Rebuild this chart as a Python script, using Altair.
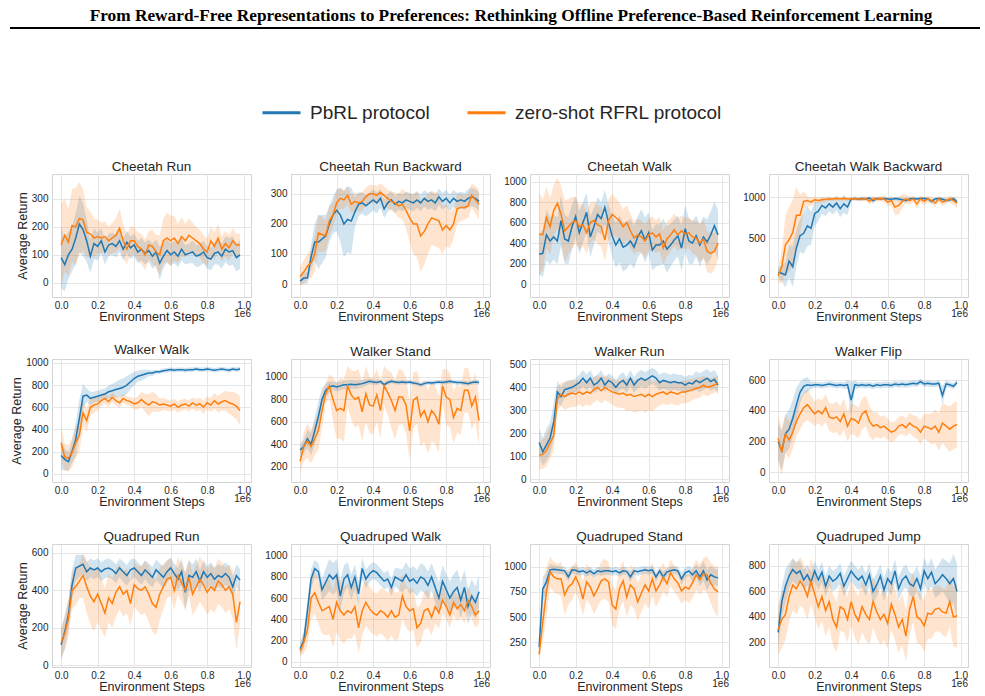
import altair as alt
import pandas as pd

TITLE = ("From Reward-Free Representations to Preferences: "
         "Rethinking Offline Preference-Based Reinforcement Learning")
SERIES = ["PbRL protocol", "zero-shot RFRL protocol"]
COLORS = ["#1f77b4", "#ff7f0e"]
STEPS = [i / 50 for i in range(50)]  # environment steps (x 1e6)
X_TICKS = [0.0, 0.2, 0.4, 0.6, 0.8, 1.0]

TASKS = ["Cheetah Run", "Cheetah Run Backward", "Cheetah Walk", "Cheetah Walk Backward",
         "Walker Walk", "Walker Stand", "Walker Run", "Walker Flip",
         "Quadruped Run", "Quadruped Walk", "Quadruped Stand", "Quadruped Jump"]
Y_TICKS = [[0, 100, 200, 300], [0, 100, 200, 300], [0, 200, 400, 600, 800, 1000], [0, 500, 1000],
           [0, 200, 400, 600, 800, 1000], [200, 400, 600, 800, 1000], [0, 100, 200, 300, 400, 500], [0, 200, 400, 600],
           [0, 200, 400, 600], [0, 200, 400, 600, 800, 1000], [250, 500, 750, 1000], [200, 400, 600, 800]]
Y_DOMAINS = [[-51, 389], [-43, 366], [-127, 1075], [-220, 1285],
             [-75, 1036], [65, 1159], [-11, 523], [-65, 738],
             [-9, 648], [-51, 1111], [3, 1227], [9, 970]]

# mean returns (PbRL = *_P, zero-shot RFRL = *_O) and band half-widths (*_B)
CR_P = [90, 65, 100, 120, 160, 210, 190, 150, 95, 140, 130, 150, 110, 135, 140, 130, 150, 120, 145, 125,
        135, 110, 120, 105, 115, 95, 110, 70, 95, 115, 100, 110, 95, 120, 100, 105, 110, 95, 100, 110,
        90, 85, 105, 110, 95, 120, 110, 115, 90, 100]
CR_P_B = [110, 95, 85, 80, 90, 100, 95, 75, 60, 55, 50, 45, 45, 40, 40, 40, 40, 40, 40, 40,
          40, 40, 40, 40, 40, 45, 45, 60, 45, 40, 40, 40, 40, 40, 35, 35, 40, 40, 40, 40,
          40, 40, 40, 45, 45, 45, 50, 50, 50, 50]
CR_O = [135, 170, 145, 205, 200, 230, 225, 180, 175, 160, 165, 160, 165, 150, 160, 170, 195, 150, 120, 150,
        150, 130, 120, 100, 135, 130, 110, 100, 150, 160, 150, 160, 140, 165, 150, 170, 160, 150, 140, 120,
        110, 150, 130, 160, 120, 140, 125, 150, 135, 135]
CR_O_B = [150, 130, 120, 130, 140, 130, 110, 90, 80, 70, 60, 55, 55, 50, 55, 60, 70, 60, 55, 50,
          50, 50, 55, 55, 50, 60, 60, 70, 80, 90, 90, 80, 70, 70, 60, 60, 55, 50, 50, 50,
          50, 50, 50, 50, 45, 45, 45, 45, 40, 40]

CRB_P = [10, 20, 20, 90, 140, 140, 150, 160, 200, 230, 245, 230, 200, 215, 210, 240, 265, 270, 260, 270,
         280, 270, 285, 250, 270, 280, 265, 275, 270, 280, 275, 270, 280, 270, 285, 275, 280, 270, 290, 275,
         285, 270, 285, 275, 280, 275, 285, 290, 285, 275]
CRB_P_B = [15, 18, 20, 40, 60, 90, 80, 70, 60, 60, 70, 90, 110, 110, 110, 50, 40, 35, 35, 35,
           35, 35, 30, 30, 30, 30, 28, 28, 28, 28, 28, 28, 28, 28, 28, 28, 28, 28, 28, 28,
           28, 28, 28, 28, 28, 28, 30, 30, 30, 30]
CRB_O = [25, 40, 60, 70, 100, 170, 165, 160, 210, 230, 270, 285, 280, 295, 265, 275, 270, 275, 290, 300,
         300, 295, 305, 295, 285, 275, 270, 260, 265, 245, 220, 200, 200, 160, 175, 200, 220, 215, 210, 180,
         195, 180, 200, 250, 255, 255, 260, 295, 280, 265]
CRB_O_B = [30, 40, 40, 50, 60, 60, 60, 50, 50, 40, 40, 35, 30, 30, 30, 30, 30, 30, 30, 30,
           30, 30, 30, 30, 30, 30, 35, 40, 50, 60, 80, 100, 110, 120, 110, 100, 90, 90, 90, 80,
           70, 60, 50, 50, 45, 40, 40, 40, 45, 50]

CW_P = [290, 300, 480, 420, 460, 420, 620, 440, 420, 560, 660, 500, 600, 700, 460, 560, 680, 640, 750, 600,
        470, 380, 440, 360, 380, 420, 360, 460, 520, 430, 500, 330, 380, 380, 420, 340, 380, 430, 470, 350,
        540, 420, 400, 470, 380, 460, 410, 480, 570, 480]
CW_P_B = [200, 230, 250, 230, 220, 230, 250, 240, 230, 220, 200, 210, 200, 190, 200, 180, 170, 160, 170, 180,
          200, 220, 230, 240, 230, 220, 210, 200, 210, 220, 200, 200, 210, 200, 220, 230, 210, 200, 200, 220,
          230, 220, 210, 200, 210, 200, 220, 230, 240, 240]
CW_O = [490, 480, 650, 560, 720, 790, 680, 520, 560, 600, 620, 560, 580, 500, 600, 620, 580, 560, 430, 620,
        680, 650, 620, 560, 600, 520, 450, 480, 460, 420, 480, 500, 460, 490, 350, 440, 480, 530, 480, 520,
        490, 500, 460, 450, 400, 440, 320, 300, 320, 400]
CW_O_B = [400, 350, 300, 280, 250, 250, 280, 300, 270, 250, 230, 220, 210, 200, 200, 190, 190, 200, 200, 210,
          200, 190, 180, 170, 170, 170, 160, 160, 160, 160, 160, 160, 160, 170, 170, 170, 160, 160, 160, 150,
          150, 150, 160, 170, 180, 190, 200, 200, 180, 150]

CWB_P = [80, 70, 50, 220, 150, 380, 530, 560, 650, 620, 800, 830, 900, 870, 920, 880, 930, 860, 920, 880,
         980, 985, 975, 985, 980, 990, 960, 985, 980, 985, 980, 975, 985, 980, 970, 960, 980, 985, 980, 985,
         985, 980, 950, 980, 985, 975, 960, 970, 980, 945]
CWB_P_B = [60, 100, 150, 200, 250, 230, 200, 250, 250, 200, 150, 120, 100, 100, 90, 90, 90, 100, 110, 100,
           20, 20, 20, 25, 20, 20, 40, 20, 20, 20, 20, 20, 20, 25, 25, 30, 20, 20, 20, 20,
           20, 20, 30, 20, 20, 25, 25, 25, 25, 30]
CWB_O = [40, 150, 420, 480, 570, 780, 780, 950, 960, 940, 970, 960, 970, 975, 980, 980, 985, 980, 985, 980,
         980, 985, 980, 975, 985, 950, 980, 975, 985, 980, 940, 960, 880, 900, 950, 980, 960, 980, 920, 980,
         950, 980, 960, 930, 980, 940, 960, 980, 960, 930]
CWB_O_B = [80, 200, 350, 400, 400, 350, 250, 120, 60, 50, 40, 35, 30, 30, 25, 25, 25, 25, 25, 25,
           25, 25, 25, 25, 25, 40, 30, 30, 30, 40, 50, 60, 100, 110, 80, 50, 50, 40, 60, 40,
           50, 40, 40, 50, 40, 50, 40, 40, 50, 60]

WW_P = [165, 130, 110, 200, 310, 500, 700, 710, 680, 690, 700, 710, 720, 740, 750, 760, 770, 780, 800, 830,
        860, 880, 890, 900, 910, 910, 920, 920, 930, 935, 940, 935, 940, 940, 935, 940, 940, 945, 940, 940,
        945, 940, 935, 940, 945, 940, 935, 945, 940, 945]
WW_P_B = [130, 100, 80, 100, 150, 170, 110, 60, 60, 50, 50, 50, 50, 60, 60, 70, 80, 80, 80, 70,
          60, 50, 50, 40, 30, 25, 20, 20, 20, 20, 20, 20, 20, 20, 20, 20, 20, 20, 20, 20,
          20, 20, 20, 20, 20, 20, 20, 20, 20, 20]
WW_O = [280, 150, 140, 190, 280, 350, 550, 480, 600, 620, 630, 660, 680, 650, 690, 660, 640, 680, 660, 650,
        630, 640, 670, 640, 620, 650, 640, 620, 630, 620, 610, 630, 600, 620, 630, 610, 640, 620, 630, 600,
        640, 620, 660, 630, 650, 660, 640, 630, 610, 570]
WW_O_B = [150, 120, 120, 130, 140, 150, 120, 100, 80, 70, 60, 50, 50, 50, 45, 45, 45, 40, 40, 40,
          50, 60, 70, 80, 100, 90, 80, 60, 55, 50, 50, 50, 50, 50, 50, 50, 50, 55, 55, 60,
          60, 65, 70, 75, 80, 90, 100, 110, 120, 130]

WS_P = [350, 380, 450, 400, 520, 650, 800, 880, 910, 920, 910, 920, 930, 930, 935, 930, 935, 940, 950, 960,
        955, 950, 960, 930, 950, 960, 955, 950, 955, 950, 955, 945, 940, 930, 940, 950, 945, 950, 955, 950,
        955, 960, 955, 950, 950, 945, 940, 950, 955, 950]
WS_P_B = [50, 60, 80, 100, 120, 130, 100, 60, 50, 40, 40, 40, 40, 40, 40, 40, 40, 35, 30, 25,
          25, 25, 20, 25, 20, 20, 20, 20, 20, 20, 20, 20, 20, 20, 20, 20, 20, 20, 20, 20,
          20, 20, 20, 20, 20, 20, 20, 20, 20, 25]
WS_O = [250, 380, 430, 380, 450, 520, 700, 850, 920, 800, 700, 720, 700, 920, 840, 800, 820, 690, 850, 750,
        740, 840, 700, 920, 860, 790, 700, 820, 820, 750, 520, 790, 820, 650, 700, 600, 700, 660, 580, 920,
        820, 800, 640, 720, 700, 880, 880, 740, 820, 610]
WS_O_B = [100, 130, 150, 150, 150, 170, 150, 100, 100, 200, 250, 270, 280, 180, 220, 250, 250, 260, 250, 250,
          250, 240, 250, 180, 200, 250, 260, 250, 240, 250, 260, 250, 240, 270, 280, 280, 270, 260, 250, 150,
          250, 240, 230, 220, 210, 200, 200, 210, 220, 220]

WR_P = [160, 120, 150, 180, 250, 380, 360, 390, 395, 400, 410, 420, 440, 420, 440, 410, 420, 440, 410, 430,
        420, 400, 420, 430, 410, 440, 410, 430, 440, 430, 440, 450, 440, 420, 430, 425, 420, 425, 420, 420,
        410, 420, 415, 430, 420, 430, 440, 425, 435, 410]
WR_P_B = [60, 60, 70, 70, 80, 50, 40, 35, 35, 30, 30, 35, 35, 35, 35, 35, 35, 35, 30, 30,
          30, 30, 35, 35, 35, 35, 35, 35, 35, 35, 35, 35, 35, 35, 35, 35, 35, 35, 35, 35,
          35, 35, 35, 40, 40, 40, 40, 40, 40, 40]
WR_O = [105, 110, 125, 160, 190, 350, 370, 360, 370, 375, 370, 380, 370, 380, 375, 390, 400, 385, 400, 390,
        380, 375, 370, 375, 365, 370, 360, 365, 370, 360, 370, 360, 370, 375, 380, 370, 380, 375, 370, 380,
        380, 385, 390, 395, 400, 410, 400, 405, 410, 420]
WR_O_B = [60, 65, 70, 70, 60, 50, 50, 60, 60, 60, 55, 55, 55, 55, 55, 55, 55, 55, 55, 55,
          55, 60, 60, 65, 70, 70, 70, 70, 70, 70, 70, 65, 60, 55, 50, 50, 50, 50, 50, 50,
          50, 50, 45, 45, 45, 40, 40, 35, 35, 30]

WF_P = [200, 140, 250, 280, 350, 440, 520, 560, 570, 565, 570, 570, 565, 570, 575, 570, 565, 570, 565, 570,
        470, 570, 565, 570, 565, 570, 560, 570, 565, 570, 570, 565, 575, 570, 575, 570, 575, 580, 575, 590,
        575, 580, 575, 575, 580, 500, 575, 570, 560, 585]
WF_P_B = [120, 130, 120, 130, 120, 110, 70, 50, 50, 25, 20, 20, 20, 20, 20, 20, 20, 20, 20, 30,
          120, 30, 20, 20, 20, 20, 20, 20, 20, 20, 20, 20, 20, 20, 20, 20, 20, 20, 20, 20,
          20, 20, 20, 20, 20, 60, 25, 20, 20, 20]
WF_O = [220, 130, 250, 210, 260, 330, 380, 420, 440, 410, 380, 400, 380, 420, 360, 350, 360, 330, 380, 300,
        350, 340, 320, 380, 400, 330, 300, 310, 290, 300, 280, 260, 270, 300, 310, 290, 320, 300, 290, 260,
        300, 290, 280, 300, 260, 320, 300, 280, 300, 310]
WF_O_B = [150, 150, 130, 120, 110, 100, 100, 100, 100, 90, 80, 80, 85, 90, 90, 95, 100, 100, 100, 100,
          100, 100, 100, 100, 100, 100, 90, 80, 75, 70, 70, 65, 60, 60, 60, 60, 65, 70, 75, 80,
          80, 90, 100, 110, 120, 130, 140, 150, 150, 150]

QR_P = [110, 180, 270, 430, 520, 530, 540, 500, 520, 510, 520, 500, 515, 520, 510, 490, 520, 500, 480, 510,
        520, 500, 480, 510, 490, 470, 510, 490, 470, 500, 520, 490, 460, 500, 390, 480, 470, 500, 450, 500,
        470, 490, 460, 480, 470, 490, 470, 420, 480, 455]
QR_P_B = [80, 90, 80, 80, 70, 60, 50, 50, 50, 50, 50, 50, 50, 50, 50, 50, 50, 55, 55, 55,
          50, 50, 50, 50, 55, 55, 55, 55, 60, 60, 55, 55, 60, 70, 100, 80, 70, 70, 60, 60,
          60, 60, 60, 60, 60, 60, 60, 60, 60, 60]
QR_O = [120, 170, 250, 400, 420, 450, 480, 420, 370, 340, 380, 330, 280, 360, 330, 390, 420, 380, 400, 330,
        430, 410, 400, 420, 380, 330, 310, 380, 420, 460, 470, 400, 480, 440, 400, 470, 380, 420, 460, 430,
        390, 420, 400, 450, 430, 400, 420, 380, 230, 340]
QR_O_B = [80, 90, 100, 100, 100, 90, 120, 140, 150, 160, 150, 140, 130, 130, 130, 130, 120, 120, 120, 120,
          120, 120, 130, 140, 150, 150, 150, 140, 120, 100, 100, 100, 100, 100, 100, 100, 110, 120, 120, 120,
          120, 120, 120, 120, 120, 120, 120, 130, 150, 120]

QW_P = [120, 200, 480, 780, 880, 850, 680, 750, 820, 780, 820, 620, 780, 820, 700, 800, 640, 880, 780, 830,
        860, 840, 800, 760, 780, 700, 800, 780, 760, 820, 760, 780, 740, 800, 780, 720, 800, 700, 600, 760,
        680, 600, 660, 700, 580, 700, 520, 620, 560, 660]
QW_P_B = [60, 80, 100, 100, 80, 80, 100, 130, 150, 150, 150, 140, 130, 120, 120, 120, 110, 100, 90, 80,
          80, 80, 80, 80, 80, 80, 90, 100, 110, 120, 120, 120, 125, 130, 130, 130, 130, 140, 150, 150,
          150, 160, 160, 170, 170, 170, 170, 160, 150, 150]
QW_O = [100, 180, 300, 600, 650, 560, 480, 500, 520, 400, 560, 480, 440, 480, 460, 520, 320, 480, 560, 500,
        460, 440, 480, 460, 420, 480, 420, 440, 620, 520, 480, 500, 320, 360, 480, 500, 420, 520, 460, 580,
        520, 440, 560, 500, 540, 480, 580, 520, 440, 480]
QW_O_B = [50, 100, 150, 200, 200, 200, 220, 250, 260, 270, 280, 280, 270, 260, 250, 250, 240, 230, 220, 210,
          200, 200, 210, 220, 230, 230, 230, 220, 210, 200, 200, 200, 190, 180, 180, 180, 170, 160, 150, 130,
          120, 120, 120, 120, 120, 120, 120, 120, 120, 120]

QS_P = [200, 780, 850, 970, 975, 970, 965, 960, 900, 970, 965, 950, 960, 940, 960, 930, 960, 950, 960, 960,
        950, 960, 940, 960, 955, 900, 960, 950, 960, 970, 960, 970, 900, 960, 900, 950, 960, 970, 960, 880,
        940, 960, 920, 960, 900, 960, 870, 920, 900, 890]
QS_P_B = [60, 120, 100, 60, 40, 40, 40, 40, 50, 40, 40, 40, 40, 40, 40, 40, 40, 40, 40, 40,
          40, 40, 40, 40, 40, 50, 40, 40, 40, 40, 40, 40, 50, 40, 50, 40, 40, 40, 40, 60,
          50, 50, 60, 60, 90, 100, 100, 90, 80, 80]
QS_O = [130, 450, 750, 950, 900, 880, 880, 720, 800, 830, 900, 820, 680, 850, 800, 710, 780, 860, 880, 850,
        620, 580, 780, 860, 700, 820, 780, 650, 740, 820, 760, 880, 760, 820, 900, 830, 940, 880, 840, 760,
        800, 780, 840, 920, 870, 930, 920, 840, 780, 750]
QS_O_B = [60, 200, 250, 150, 150, 150, 170, 200, 180, 160, 150, 160, 170, 180, 180, 180, 180, 190, 200, 200,
          200, 200, 200, 200, 200, 200, 200, 190, 190, 180, 180, 170, 160, 150, 140, 130, 130, 130, 130, 130,
          130, 140, 150, 150, 150, 160, 180, 200, 230, 250]

QJ_P = [280, 520, 640, 720, 770, 740, 760, 690, 730, 670, 760, 690, 750, 640, 720, 680, 700, 740, 640, 700,
        760, 720, 690, 720, 650, 730, 600, 650, 720, 610, 700, 660, 760, 620, 690, 720, 660, 640, 700, 620,
        760, 700, 750, 660, 690, 730, 700, 660, 700, 600]
QJ_P_B = [130, 120, 130, 100, 90, 90, 80, 80, 80, 80, 80, 80, 80, 80, 80, 80, 80, 80, 80, 80,
          80, 80, 80, 85, 90, 90, 90, 90, 90, 90, 90, 90, 90, 90, 90, 90, 90, 95, 100, 100,
          100, 100, 110, 110, 120, 130, 140, 160, 190, 220]
QJ_O = [300, 380, 420, 560, 650, 620, 680, 640, 560, 680, 580, 480, 560, 450, 520, 380, 320, 480, 460, 380,
        520, 420, 370, 480, 420, 380, 520, 440, 380, 420, 350, 500, 420, 320, 380, 250, 460, 560, 400, 380,
        330, 430, 420, 460, 470, 440, 430, 520, 400, 410]
QJ_O_B = [200, 220, 200, 200, 200, 200, 190, 180, 180, 180, 180, 180, 190, 200, 200, 200, 200, 190, 180, 180,
          180, 180, 190, 200, 200, 200, 200, 200, 200, 200, 200, 200, 200, 200, 200, 200, 200, 200, 200, 200,
          200, 200, 190, 180, 180, 180, 190, 200, 230, 250]

PANEL_DATA = [
    (CR_P, CR_P_B, CR_O, CR_O_B), (CRB_P, CRB_P_B, CRB_O, CRB_O_B),
    (CW_P, CW_P_B, CW_O, CW_O_B), (CWB_P, CWB_P_B, CWB_O, CWB_O_B),
    (WW_P, WW_P_B, WW_O, WW_O_B), (WS_P, WS_P_B, WS_O, WS_O_B),
    (WR_P, WR_P_B, WR_O, WR_O_B), (WF_P, WF_P_B, WF_O, WF_O_B),
    (QR_P, QR_P_B, QR_O, QR_O_B), (QW_P, QW_P_B, QW_O, QW_O_B),
    (QS_P, QS_P_B, QS_O, QS_O_B), (QJ_P, QJ_P_B, QJ_O, QJ_O_B),
]

FONT = "Liberation Sans"
TXT = "#262626"
PW, PH = 199, 123
TOP = 172  # page y of first row's plot area (header items are placed above it)

LEGEND = alt.Legend(
    title=None, orient="none", legendX=209, legendY=90 - TOP, direction="horizontal",
    symbolType="stroke", symbolStrokeWidth=3, symbolSize=1444, labelFontSize=19,
    labelFont=FONT, labelColor=TXT, labelOffset=8, columnPadding=30, labelLimit=400,
)


def panel(i):
    pm, pb, om, ob = PANEL_DATA[i]
    rows = []
    for s, means, bands in ((SERIES[0], pm, pb), (SERIES[1], om, ob)):
        for x, v, w in zip(STEPS, means, bands):
            rows.append({"step": x, "value": v, "lo": v - w, "hi": v + w, "series": s})
    df = pd.DataFrame(rows)

    xax = alt.Axis(values=X_TICKS, format=".1f", title="Environment Steps")
    xsc = alt.Scale(domain=[-0.05, 1.04], nice=False, zero=False)
    ysc = alt.Scale(domain=Y_DOMAINS[i], nice=False, zero=False)
    if i % 4 == 0:
        yax = alt.Axis(values=Y_TICKS[i], format="d", title="Average Return")
    else:
        yax = alt.Axis(values=Y_TICKS[i], format="d", title=None)

    layers = []
    for s, c in zip(SERIES, COLORS):
        layers.append(
            alt.Chart(df).transform_filter(alt.datum.series == s)
            .mark_area(color=c, opacity=0.2, clip=True)
            .encode(x=alt.X("step:Q", scale=xsc, axis=xax),
                    y=alt.Y("lo:Q", scale=ysc, axis=yax),
                    y2="hi:Q")
        )
    layers.append(
        alt.Chart(df).mark_line(strokeWidth=1.5, clip=True).encode(
            x=alt.X("step:Q", scale=xsc, axis=xax),
            y=alt.Y("value:Q", scale=ysc, axis=yax),
            color=alt.Color("series:N", scale=alt.Scale(domain=SERIES, range=COLORS), legend=LEGEND),
        )
    )
    layers.append(
        alt.Chart(pd.DataFrame({"t": ["1e6"]})).mark_text(
            align="right", baseline="middle", fontSize=10, font=FONT, color=TXT
        ).encode(text="t:N", x=alt.value(PW), y=alt.value(PH + 17))
    )
    if i == 0:
        # panel title as a text mark, and the figure header (paper title + rule) above the grid
        layers.append(
            alt.Chart(pd.DataFrame({"t": [TASKS[i]]})).mark_text(
                font=FONT, fontSize=13.5, color=TXT, align="center", baseline="middle"
            ).encode(text="t:N", x=alt.value(PW / 2), y=alt.value(-7))
        )
        hdr = pd.DataFrame({"t": [TITLE]})
        layers.append(
            alt.Chart(hdr).mark_text(font="Liberation Serif", fontWeight="bold", fontSize=17.3,
                                     color="black", align="center", baseline="middle")
            .encode(text="t:N", x=alt.value(459), y=alt.value(14 - TOP))
        )
        layers.append(
            alt.Chart(hdr).mark_rule(color="black", strokeWidth=2)
            .encode(x=alt.value(-42), x2=alt.value(928), y=alt.value(26 - TOP))
        )
        return alt.layer(*layers).properties(width=PW, height=PH)
    return alt.layer(*layers).properties(
        width=PW, height=PH, title=alt.TitleParams(TASKS[i])
    )


chart = alt.concat(
    *[panel(i) for i in range(12)], columns=4,
    spacing=alt.RowColnumber(row=62, column=40), bounds="flush",
).properties(
    padding={"left": 8, "top": 6, "right": 0, "bottom": 0}
).configure_view(
    stroke="#d4d4d4", strokeWidth=1
).configure_axis(
    grid=True, gridColor="#e6e6e6", domain=False, ticks=False,
    labelFont=FONT, labelFontSize=10, labelColor=TXT,
    titleFont=FONT, titleFontSize=12.5, titleFontWeight="normal", titleColor=TXT,
).configure_axisX(
    labelPadding=3, titlePadding=0
).configure_axisY(
    labelPadding=4, titlePadding=2
).configure_title(
    font=FONT, fontSize=13.5, fontWeight="normal", color=TXT, offset=1
)

chart.save("out.html", embed_options={"renderer": "svg", "actions": False})
